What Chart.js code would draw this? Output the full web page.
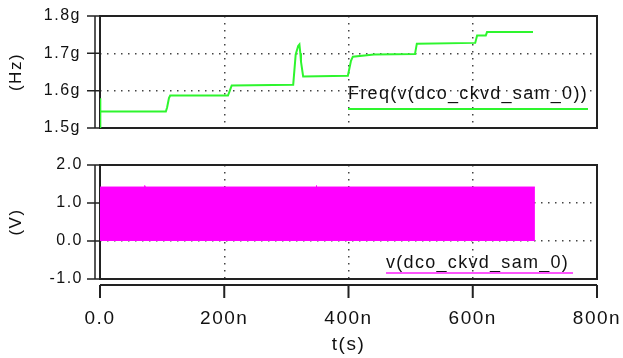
<!DOCTYPE html>
<html>
<head>
<meta charset="utf-8">
<script src="https://cdn.jsdelivr.net/npm/chart.js@4.4.0/dist/chart.umd.min.js"></script>
<style>
  html, body { margin: 0; padding: 0; background: #fff; }
  #wrap { position: relative; width: 623px; height: 358px; }
  .pane { position: absolute; left: 0; width: 623px; }
  #topPane { top: 0; height: 140px; }
  #botPane { top: 140px; height: 218px; }
</style>
</head>
<body>
<div id="wrap">
  <div class="pane" id="topPane"><canvas id="cFreq" width="623" height="140"></canvas></div>
  <div class="pane" id="botPane"><canvas id="cVolt" width="623" height="218"></canvas></div>
</div>
<script>
// ── DATA ─────────────────────────────────────────
// time in ns, frequency in GHz
const freqT  = [0, 0, 1, 106, 108, 111, 113, 206, 209, 212, 311, 315, 319, 321, 322.5, 323.5, 327, 399, 404, 407, 441, 507, 510, 604, 607, 621, 623, 697];
const freqHz = [1.50, 1.58, 1.544, 1.544, 1.555, 1.58, 1.587, 1.587, 1.600, 1.614, 1.616, 1.697, 1.720, 1.724, 1.70, 1.678, 1.638, 1.640, 1.680, 1.691, 1.697, 1.698, 1.726, 1.728, 1.748, 1.748, 1.757, 1.757];

// envelope of v(dco_ckvd_sam_0), time in ns, volts
const bandT = [0, 72, 72, 73, 348, 348, 349, 700];
const bandV = [1.42, 1.42, 1.46, 1.42, 1.42, 1.46, 1.42, 1.42];

const freqTickVals = [1.5, 1.6, 1.7, 1.8];
const freqTickLbl  = ['1.5g', '1.6g', '1.7g', '1.8g'];
const voltTickVals = [-1, 0, 1, 2];
const voltTickLbl  = ['-1.0', '0.0', '1.0', '2.0'];
const timeTickVals = [0, 200, 400, 600, 800];
const timeTickLbl  = ['0.0', '200n', '400n', '600n', '800n'];

const FONT = "'Liberation Sans', Arial, sans-serif";
const INK  = '#111';
const GREEN = '#2ef52e';
const MAGENTA = '#ff00ff';

// ── HELPERS ──────────────────────────────────────
function setTicks(vals) {
  return s => { s.ticks = vals.map(v => ({ value: v })); };
}
// fixed axis size, no extra label padding
function fixSize(prop, n) {
  return s => {
    s[prop] = n;
    s.paddingTop = s.paddingBottom = s.paddingLeft = s.paddingRight = 0;
  };
}
// dotted grid only on inner ticks
function innerGrid(vals) {
  return c => (c.tick && (c.tick.value === vals[0] || c.tick.value === vals[vals.length - 1])) ? 'rgba(0,0,0,0)' : '#444';
}

// box, detached axes and tick marks
const framePlugin = {
  id: 'frame',
  beforeDraw(chart) { chart.ctx.letterSpacing = '1.5px'; },
  beforeDatasetsDraw(chart, args, opts) {
    const { ctx, chartArea: a } = chart;
    ctx.save();
    ctx.strokeStyle = '#222';
    ctx.lineWidth = 2;
    ctx.strokeRect(a.left, a.top, a.right - a.left, a.bottom - a.top);
    const ys = chart.scales.y;
    ctx.lineWidth = 1.5;
    ctx.beginPath();
    ctx.moveTo(a.left - 5, a.top); ctx.lineTo(a.left - 5, a.bottom);
    ys.ticks.forEach(t => {
      const p = ys.getPixelForValue(t.value);
      ctx.moveTo(a.left - 13, p); ctx.lineTo(a.left, p);
    });
    ctx.stroke();
    if (opts.xAxis) {
      const xs = chart.scales.x;
      const y0 = a.bottom + 6;
      ctx.lineWidth = 2;
      ctx.beginPath();
      ctx.moveTo(a.left, y0); ctx.lineTo(a.right, y0);
      xs.ticks.forEach(t => {
        const p = xs.getPixelForValue(t.value);
        ctx.moveTo(p, y0); ctx.lineTo(p, y0 + 13);
      });
      ctx.stroke();
    }
    ctx.restore();
  },
  afterDatasetsDraw(chart, args, opts) {
    const lg = opts.legend;
    if (!lg) return;
    const ctx = chart.ctx;
    ctx.save();
    ctx.font = '18px ' + FONT;
    ctx.letterSpacing = '1.3px';
    ctx.fillStyle = INK;
    ctx.textBaseline = 'alphabetic';
    ctx.fillText(lg.text, lg.x, lg.y);
    ctx.strokeStyle = lg.color;
    ctx.lineWidth = 2;
    ctx.beginPath();
    ctx.moveTo(lg.x, lg.ly); ctx.lineTo(lg.x2, lg.ly);
    ctx.stroke();
    ctx.restore();
  }
};

Chart.defaults.font.family = FONT;
Chart.defaults.color = INK;
Chart.defaults.animation = false;

// ── CHART 1: Freq ────────────────────────────────
new Chart(document.getElementById('cFreq'), {
  type: 'scatter',
  data: {
    datasets: [{
      data: freqT.map((t, i) => ({ x: t, y: freqHz[i] })),
      showLine: true, borderColor: GREEN, borderWidth: 2, pointRadius: 0, tension: 0
    }]
  },
  options: {
    responsive: false,
    layout: { padding: { left: 0, top: 16, right: 26, bottom: 12 } },
    plugins: {
      legend: { display: false }, tooltip: { enabled: false },
      frame: { legend: { text: 'Freq(v(dco_ckvd_sam_0))', x: 348, y: 99, ly: 109, x2: 588, color: GREEN } }
    },
    scales: {
      x: {
        type: 'linear', min: 0, max: 800,
        afterBuildTicks: setTicks(timeTickVals),
        afterFit: fixSize('height', 0),
        ticks: { display: false },
        grid: { drawTicks: false, color: innerGrid(timeTickVals), lineWidth: 1.5 },
        border: { display: false, dash: [1.5, 5.5] }
      },
      y: {
        min: 1.5, max: 1.8,
        afterBuildTicks: setTicks(freqTickVals),
        afterFit: fixSize('width', 100),
        ticks: { callback: (v, i) => freqTickLbl[i], font: { size: 16 }, padding: 19 },
        grid: { drawTicks: false, color: innerGrid(freqTickVals), lineWidth: 1.5 },
        border: { display: false, dash: [1.5, 5.5] },
        title: { display: true, text: '(Hz)', font: { size: 17 }, padding: { top: 6, bottom: 0 } }
      }
    }
  },
  plugins: [framePlugin]
});

// ── CHART 2: v(dco_ckvd_sam_0) ───────────────────
new Chart(document.getElementById('cVolt'), {
  type: 'scatter',
  data: {
    datasets: [{
      data: bandT.map((t, i) => ({ x: t, y: bandV[i] })),
      showLine: true, borderColor: MAGENTA, backgroundColor: MAGENTA, fill: 'origin',
      borderWidth: 1, pointRadius: 0, tension: 0
    }]
  },
  options: {
    responsive: false,
    layout: { padding: { left: 0, top: 25, right: 26, bottom: 0 } },
    plugins: {
      legend: { display: false }, tooltip: { enabled: false },
      frame: { xAxis: true, legend: { text: 'v(dco_ckvd_sam_0)', x: 386, y: 128, ly: 133, x2: 573, color: '#ff55ff' } }
    },
    scales: {
      x: {
        type: 'linear', min: 0, max: 800,
        afterBuildTicks: setTicks(timeTickVals),
        afterFit: fixSize('height', 79),
        ticks: { callback: (v, i) => timeTickLbl[i], font: { size: 19 }, padding: 28, maxRotation: 0 },
        grid: { drawTicks: false, color: innerGrid(timeTickVals), lineWidth: 1.5 },
        border: { display: false, dash: [1.5, 5.5] },
        title: { display: true, text: 't(s)', font: { size: 19 }, padding: { top: 0, bottom: 2 } }
      },
      y: {
        min: -1, max: 2,
        afterBuildTicks: setTicks(voltTickVals),
        afterFit: fixSize('width', 100),
        ticks: { callback: (v, i) => voltTickLbl[i], font: { size: 16 }, padding: 17 },
        grid: { drawTicks: false, color: innerGrid(voltTickVals), lineWidth: 1.5 },
        border: { display: false, dash: [1.5, 5.5] },
        title: { display: true, text: '(V)', font: { size: 17 }, padding: { top: 6, bottom: 0 } }
      }
    }
  },
  plugins: [framePlugin]
});
</script>
</body>
</html>
